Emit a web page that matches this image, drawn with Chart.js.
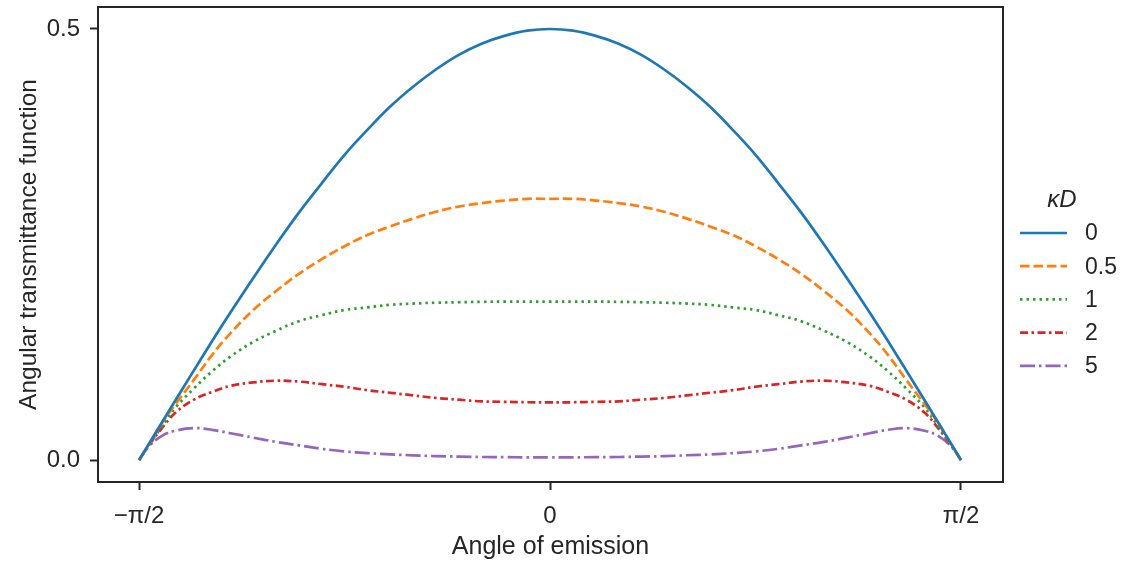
<!DOCTYPE html>
<html>
<head>
<meta charset="utf-8">
<script src="https://cdn.jsdelivr.net/npm/chart.js@4"></script>
<style>
  html, body { margin: 0; padding: 0; background: #fff; }
  #wrap { width: 1123px; height: 562px; }
</style>
</head>
<body>
<div id="wrap"><canvas id="chart"></canvas></div>
<script>
// angle of emission, in degrees (-90 = -pi/2, 90 = pi/2)
const angles = [-90, -88, -85, -82, -78, -74, -70, -65, -60, -55, -50, -45, -40, -35, -30, -25, -20, -15, -10, -5, 0,
                5, 10, 15, 20, 25, 30, 35, 40, 45, 50, 55, 60, 65, 70, 74, 78, 82, 85, 88, 90];

// values, one array per kappa*D
const kd0 = [0, 0.0175, 0.0436, 0.0696, 0.104, 0.138, 0.171, 0.211, 0.25, 0.287, 0.321, 0.354, 0.383, 0.41, 0.433, 0.453, 0.47, 0.483, 0.492, 0.498, 0.5,
             0.498, 0.492, 0.483, 0.47, 0.453, 0.433, 0.41, 0.383, 0.354, 0.321, 0.287, 0.25, 0.211, 0.171, 0.138, 0.104, 0.0696, 0.0436, 0.0175, 0];
const kd05 = [0, 0.017, 0.043, 0.065, 0.093, 0.122, 0.147, 0.174, 0.196, 0.216, 0.233, 0.248, 0.261, 0.271, 0.280, 0.288, 0.294, 0.298, 0.301, 0.303, 0.303,
              0.303, 0.301, 0.298, 0.294, 0.288, 0.280, 0.271, 0.261, 0.248, 0.233, 0.216, 0.196, 0.174, 0.147, 0.122, 0.093, 0.065, 0.043, 0.017, 0];
const kd1 = [0, 0.016, 0.039, 0.061, 0.083, 0.103, 0.120, 0.137, 0.150, 0.161, 0.168, 0.174, 0.177, 0.180, 0.1815, 0.1825, 0.183, 0.1835, 0.1837, 0.1837, 0.1837,
             0.1837, 0.1837, 0.1835, 0.183, 0.1825, 0.1815, 0.180, 0.177, 0.174, 0.168, 0.161, 0.150, 0.137, 0.120, 0.103, 0.083, 0.061, 0.039, 0.016, 0];
const kd2 = [0, 0.016, 0.037, 0.055, 0.070, 0.079, 0.086, 0.090, 0.092, 0.091, 0.088, 0.085, 0.081, 0.078, 0.075, 0.072, 0.070, 0.068, 0.0675, 0.067, 0.0669,
             0.067, 0.0675, 0.068, 0.070, 0.072, 0.075, 0.078, 0.081, 0.085, 0.088, 0.091, 0.092, 0.090, 0.086, 0.079, 0.070, 0.055, 0.037, 0.016, 0];
const kd5 = [0, 0.015, 0.028, 0.034, 0.037, 0.035, 0.031, 0.026, 0.021, 0.017, 0.013, 0.010, 0.008, 0.0065, 0.0055, 0.0045, 0.004, 0.0035, 0.0033, 0.0031, 0.0031,
             0.0031, 0.0033, 0.0035, 0.004, 0.0045, 0.0055, 0.0065, 0.008, 0.010, 0.013, 0.017, 0.021, 0.026, 0.031, 0.035, 0.037, 0.034, 0.028, 0.015, 0];

const seriesLabels = ['0', '0.5', '1', '2', '5'];
const xTicks = [-90, 0, 90];
const xTickLabels = ['\u2212\u03c0/2', '0', '\u03c0/2'];
const yTicks = [0, 0.5];

const FONT = '"Liberation Sans", Arial, sans-serif';
const INK = '#262626';

function pts(vals) {
    return angles.map((a, i) => ({ x: a, y: vals[i] }));
}

const styles = [
    { color: '#1f77b4', dash: [] },
    { color: '#ff7f0e', dash: [9.5, 4] },
    { color: '#2ca02c', dash: [2.5, 4] },
    { color: '#d62728', dash: [8, 3.5, 2.5, 3.5] },
    { color: '#9467bd', dash: [15, 4, 2.5, 4] }
];

const allVals = [kd0, kd05, kd1, kd2, kd5];
const datasets = allVals.map((v, i) => ({
    label: seriesLabels[i],
    data: pts(v),
    borderColor: styles[i].color,
    backgroundColor: styles[i].color,
    borderDash: styles[i].dash,
    borderWidth: 2.7,
    pointRadius: 0,
    fill: false,
    tension: 0.4
}));

// frame round the plot area + legend on the right
const framePlugin = {
    id: 'frame',
    afterDraw(chart) {
        const ctx = chart.ctx;
        const a = chart.chartArea;
        ctx.save();
        ctx.strokeStyle = INK;
        ctx.lineWidth = 2;
        ctx.setLineDash([]);
        ctx.strokeRect(a.left, a.top, a.right - a.left, a.bottom - a.top);

        // legend
        ctx.fillStyle = INK;
        ctx.font = 'italic 24px ' + FONT;
        ctx.textAlign = 'center';
        ctx.textBaseline = 'middle';
        ctx.fillText('\u03baD', 1062, 200);
        ctx.font = '23px ' + FONT;
        ctx.textAlign = 'left';
        chart.data.datasets.forEach((ds, i) => {
            const y = 233 + i * 33.2;
            ctx.strokeStyle = ds.borderColor;
            ctx.lineWidth = 2.7;
            ctx.setLineDash(ds.borderDash);
            ctx.beginPath();
            ctx.moveTo(1020, y);
            ctx.lineTo(1067, y);
            ctx.stroke();
            ctx.fillText(ds.label, 1085, y + 1);
        });
        ctx.restore();
    }
};

new Chart(document.getElementById('chart'), {
    type: 'line',
    data: { datasets: datasets },
    options: {
        responsive: true,
        maintainAspectRatio: false,
        animation: false,
        layout: { padding: { left: 0, right: 120, top: 7, bottom: 0 } },
        plugins: { legend: { display: false }, tooltip: { enabled: false } },
        scales: {
            x: {
                type: 'linear',
                min: -99,
                max: 99.2,
                afterBuildTicks(scale) { scale.ticks = xTicks.map(v => ({ value: v })); },
                afterFit(scale) { scale.height = 80; },
                ticks: {
                    callback: (v) => xTickLabels[xTicks.indexOf(v)],
                    font: { family: FONT, size: 24 },
                    color: INK,
                    padding: 12,
                    maxRotation: 0
                },
                grid: { drawOnChartArea: false, tickLength: 8, tickWidth: 2, tickColor: INK },
                border: { display: false },
                title: {
                    display: true,
                    text: 'Angle of emission',
                    font: { family: FONT, size: 25 },
                    color: INK,
                    padding: { top: 0, bottom: 0 }
                }
            },
            y: {
                type: 'linear',
                min: -0.0255,
                max: 0.5255,
                afterBuildTicks(scale) { scale.ticks = yTicks.map(v => ({ value: v })); },
                afterFit(scale) {
                    scale.width = 98;
                    scale.paddingTop = 0;
                    scale.paddingBottom = 0;
                },
                ticks: {
                    callback: (v) => v.toFixed(1),
                    font: { family: FONT, size: 24 },
                    color: INK,
                    padding: 10
                },
                grid: { drawOnChartArea: false, tickLength: 8, tickWidth: 2, tickColor: INK },
                border: { display: false },
                title: {
                    display: true,
                    text: 'Angular transmittance function',
                    font: { family: FONT, size: 24.5 },
                    color: INK,
                    padding: { top: 15, bottom: 0 }
                }
            }
        }
    },
    plugins: [framePlugin]
});
</script>
</body>
</html>
